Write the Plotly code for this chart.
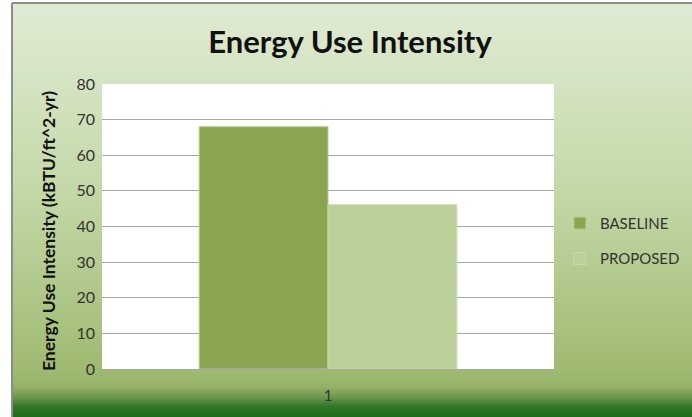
import plotly.graph_objects as go

# ---- data ----
categories = ["1"]
series_names = ["BASELINE", "PROPOSED"]
baseline_values = [68.0]
proposed_values = [46.1]
y_ticks = [0, 10, 20, 30, 40, 50, 60, 70, 80]

W, H = 692, 417
L, R, T, B = 102, 138, 84, 48
pw, ph = W - L - R, H - T - B

def px_to_paper_x(px):
    return (px - L) / pw

def px_to_paper_y(py):
    return (H - B - py) / ph

# ---- gradient background (vertical) built from thin strips ----
stops = [
    (0, (224, 235, 212)),
    (80, (213, 228, 195)),
    (200, (194, 215, 165)),
    (300, (174, 198, 135)),
    (370, (159, 186, 114)),
    (387, (148, 178, 104)),
    (397, (110, 150, 80)),
    (406, (50, 120, 40)),
    (417, (30, 108, 26)),
]

def color_at(y):
    for (y0, c0), (y1, c1) in zip(stops, stops[1:]):
        if y0 <= y <= y1:
            t = (y - y0) / (y1 - y0) if y1 > y0 else 0
            return "rgb(%d,%d,%d)" % tuple(round(a + (b - a) * t) for a, b in zip(c0, c1))
    return "rgb(%d,%d,%d)" % stops[-1][1]

shapes = []
y = 3
while y < H:
    step = 1 if y >= 380 else 3
    shapes.append(dict(type="rect", xref="paper", yref="paper",
                       x0=px_to_paper_x(12), x1=px_to_paper_x(W + 10),
                       y0=px_to_paper_y(y + step + 0.5), y1=px_to_paper_y(y),
                       fillcolor=color_at(y + step / 2), line=dict(width=0), layer="below"))
    y += step

shapes += [
    dict(type="rect", xref="paper", yref="paper", x0=0, x1=1, y0=0, y1=1,
         fillcolor="white", line=dict(width=0), layer="below"),
    dict(type="line", xref="paper", yref="paper", x0=px_to_paper_x(12), x1=px_to_paper_x(12),
         y0=px_to_paper_y(3), y1=px_to_paper_y(H + 5), line=dict(color="#8C8C8C", width=2), layer="above"),
    dict(type="line", xref="paper", yref="paper", x0=px_to_paper_x(12), x1=px_to_paper_x(W + 5),
         y0=px_to_paper_y(3), y1=px_to_paper_y(3), line=dict(color="#8C8C8C", width=2), layer="above"),
]

fig = go.Figure()
fig.add_trace(go.Bar(x=categories, y=baseline_values, name=series_names[0],
                     marker=dict(color="#8AA550", line=dict(color="#B7CC93", width=1)),
                     legendgroup="a"))
fig.add_trace(go.Bar(x=categories, y=proposed_values, name=series_names[1],
                     marker=dict(color="#BBCF98", line=dict(color="#C6D9A8", width=1)),
                     legendgroup="b"))

fig.update_layout(
    width=W, height=H,
    margin=dict(l=L, r=R, t=T, b=B, autoexpand=False),
    paper_bgcolor="white", plot_bgcolor="rgba(0,0,0,0)",
    barmode="group", bargap=0.43, bargroupgap=0,
    shapes=shapes,
    title=dict(text="<b>Energy Use Intensity</b>", x=350 / W,
               xanchor="center", y=1 - 42 / H, yanchor="middle",
               font=dict(family="Lato", size=31, color="#111111")),
    font=dict(family="Lato", color="#404040"),
    legend=dict(x=1.013, y=0.45, xanchor="left", yanchor="middle",
                bgcolor="rgba(0,0,0,0)", font=dict(size=15, color="#333333"),
                traceorder="grouped", tracegroupgap=13),
    showlegend=True,
    annotations=[dict(text="<b>Energy Use Intensity (kBTU/ft^2-yr)</b>", textangle=-90,
                      xref="paper", yref="paper", x=px_to_paper_x(48), y=px_to_paper_y(231),
                      xanchor="center", yanchor="middle", showarrow=False,
                      font=dict(family="Lato", size=17.5, color="#111111"))],
)
fig.update_xaxes(type="category", showgrid=False, showline=True, linecolor="#A6A6A6", linewidth=1,
                 ticks="", tickfont=dict(size=15, color="#333333"), ticklabelstandoff=13)
fig.update_yaxes(range=[0, 80], tickvals=y_ticks, showgrid=True, gridcolor="#A6A6A6", gridwidth=1,
                 zeroline=False, showline=False, ticks="",
                 tickfont=dict(size=16, color="#333333"), ticklabelstandoff=6)

fig.write_html("out.html")
